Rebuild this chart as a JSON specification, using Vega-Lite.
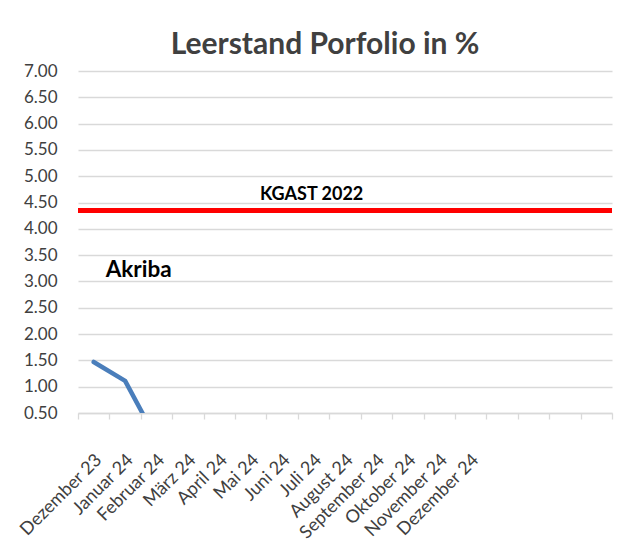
{
  "$schema": "https://vega.github.io/schema/vega-lite/v6.json",
  "width": 534,
  "height": 342,
  "autosize": {"type": "none"},
  "padding": {"left": 78, "top": 71, "right": 6, "bottom": 134},
  "background": "white",
  "config": {
    "view": {"stroke": null},
    "font": "Lato"
  },
  "title": {
    "text": "Leerstand Porfolio in %",
    "fontSize": 30,
    "fontWeight": "bold",
    "color": "#404040",
    "font": "Lato",
    "anchor": "middle",
    "dx": -20,
    "offset": 2
  },
  "datasets": {
    "akriba": [
      {"monat": "Dezember 23", "wert": 1.47},
      {"monat": "Januar 24", "wert": 1.11},
      {"monat": "Februar 24", "wert": 0.0}
    ],
    "labels": [
      {"monat": "Juli 24", "wert": 4.54, "text": "KGAST 2022"}
    ],
    "labels2": [
      {"monat": "Dezember 23", "wert": 3.09, "text": "Akriba"}
    ],
    "kgast": [
      {"wert": 4.35}
    ]
  },
  "encoding": {
    "x": {
      "field": "monat",
      "type": "nominal",
      "sort": null,
      "scale": {
        "type": "band",
        "paddingInner": 0,
        "paddingOuter": 0,
        "domain": ["Dezember 23", "Januar 24", "Februar 24", "März 24", "April 24", "Mai 24", "Juni 24", "Juli 24", "August 24", "September 24", "Oktober 24", "November 24", "Dezember 24", " ", "  ", "   ", "    "]
      },
      "axis": {
        "title": null,
        "tickBand": "extent",
        "grid": false,
        "domain": true,
        "domainColor": "#d9d9d9",
        "domainWidth": 1.3,
        "ticks": true,
        "tickColor": "#d9d9d9",
        "tickSize": 6,
        "tickWidth": 1.3,
        "labelAngle": -45,
        "labelAlign": "right",
        "labelBaseline": "middle",
        "labelPadding": 38,
        "labelOffset": 5,
        "labelFontSize": 18,
        "labelColor": "#404040",
        "labelFont": "Lato",
        "labelOverlap": false
      }
    },
    "y": {
      "field": "wert",
      "type": "quantitative",
      "scale": {"domain": [0.5, 7], "nice": false, "zero": false},
      "axis": {
        "title": null,
        "values": [0.5, 1, 1.5, 2, 2.5, 3, 3.5, 4, 4.5, 5, 5.5, 6, 6.5, 7],
        "format": ".2f",
        "domain": false,
        "ticks": false,
        "grid": true,
        "gridColor": "#d9d9d9",
        "gridWidth": 1.3,
        "labelPadding": 21,
        "labelFontSize": 17,
        "labelColor": "#404040",
        "labelFont": "Lato"
      }
    }
  },
  "layer": [
    {
      "data": {"name": "kgast"},
      "mark": {"type": "rule", "color": "#ff0000", "strokeWidth": 5},
      "encoding": {
        "x": null,
        "y": {"field": "wert", "type": "quantitative"}
      }
    },
    {
      "data": {"name": "akriba"},
      "mark": {"type": "line", "color": "#4a7ebb", "strokeWidth": 4.5, "clip": true, "strokeCap": "round", "strokeJoin": "round"}
    },
    {
      "data": {"name": "labels"},
      "mark": {"type": "text", "fontSize": 18, "fontWeight": "bold", "color": "#000000", "font": "Lato", "baseline": "alphabetic", "align": "center", "dx": -2},
      "encoding": {"text": {"field": "text"}}
    },
    {
      "data": {"name": "labels2"},
      "mark": {"type": "text", "fontSize": 22.5, "fontWeight": "bold", "color": "#000000", "font": "Lato", "baseline": "alphabetic", "align": "left", "dx": 12},
      "encoding": {"text": {"field": "text"}}
    }
  ]
}
